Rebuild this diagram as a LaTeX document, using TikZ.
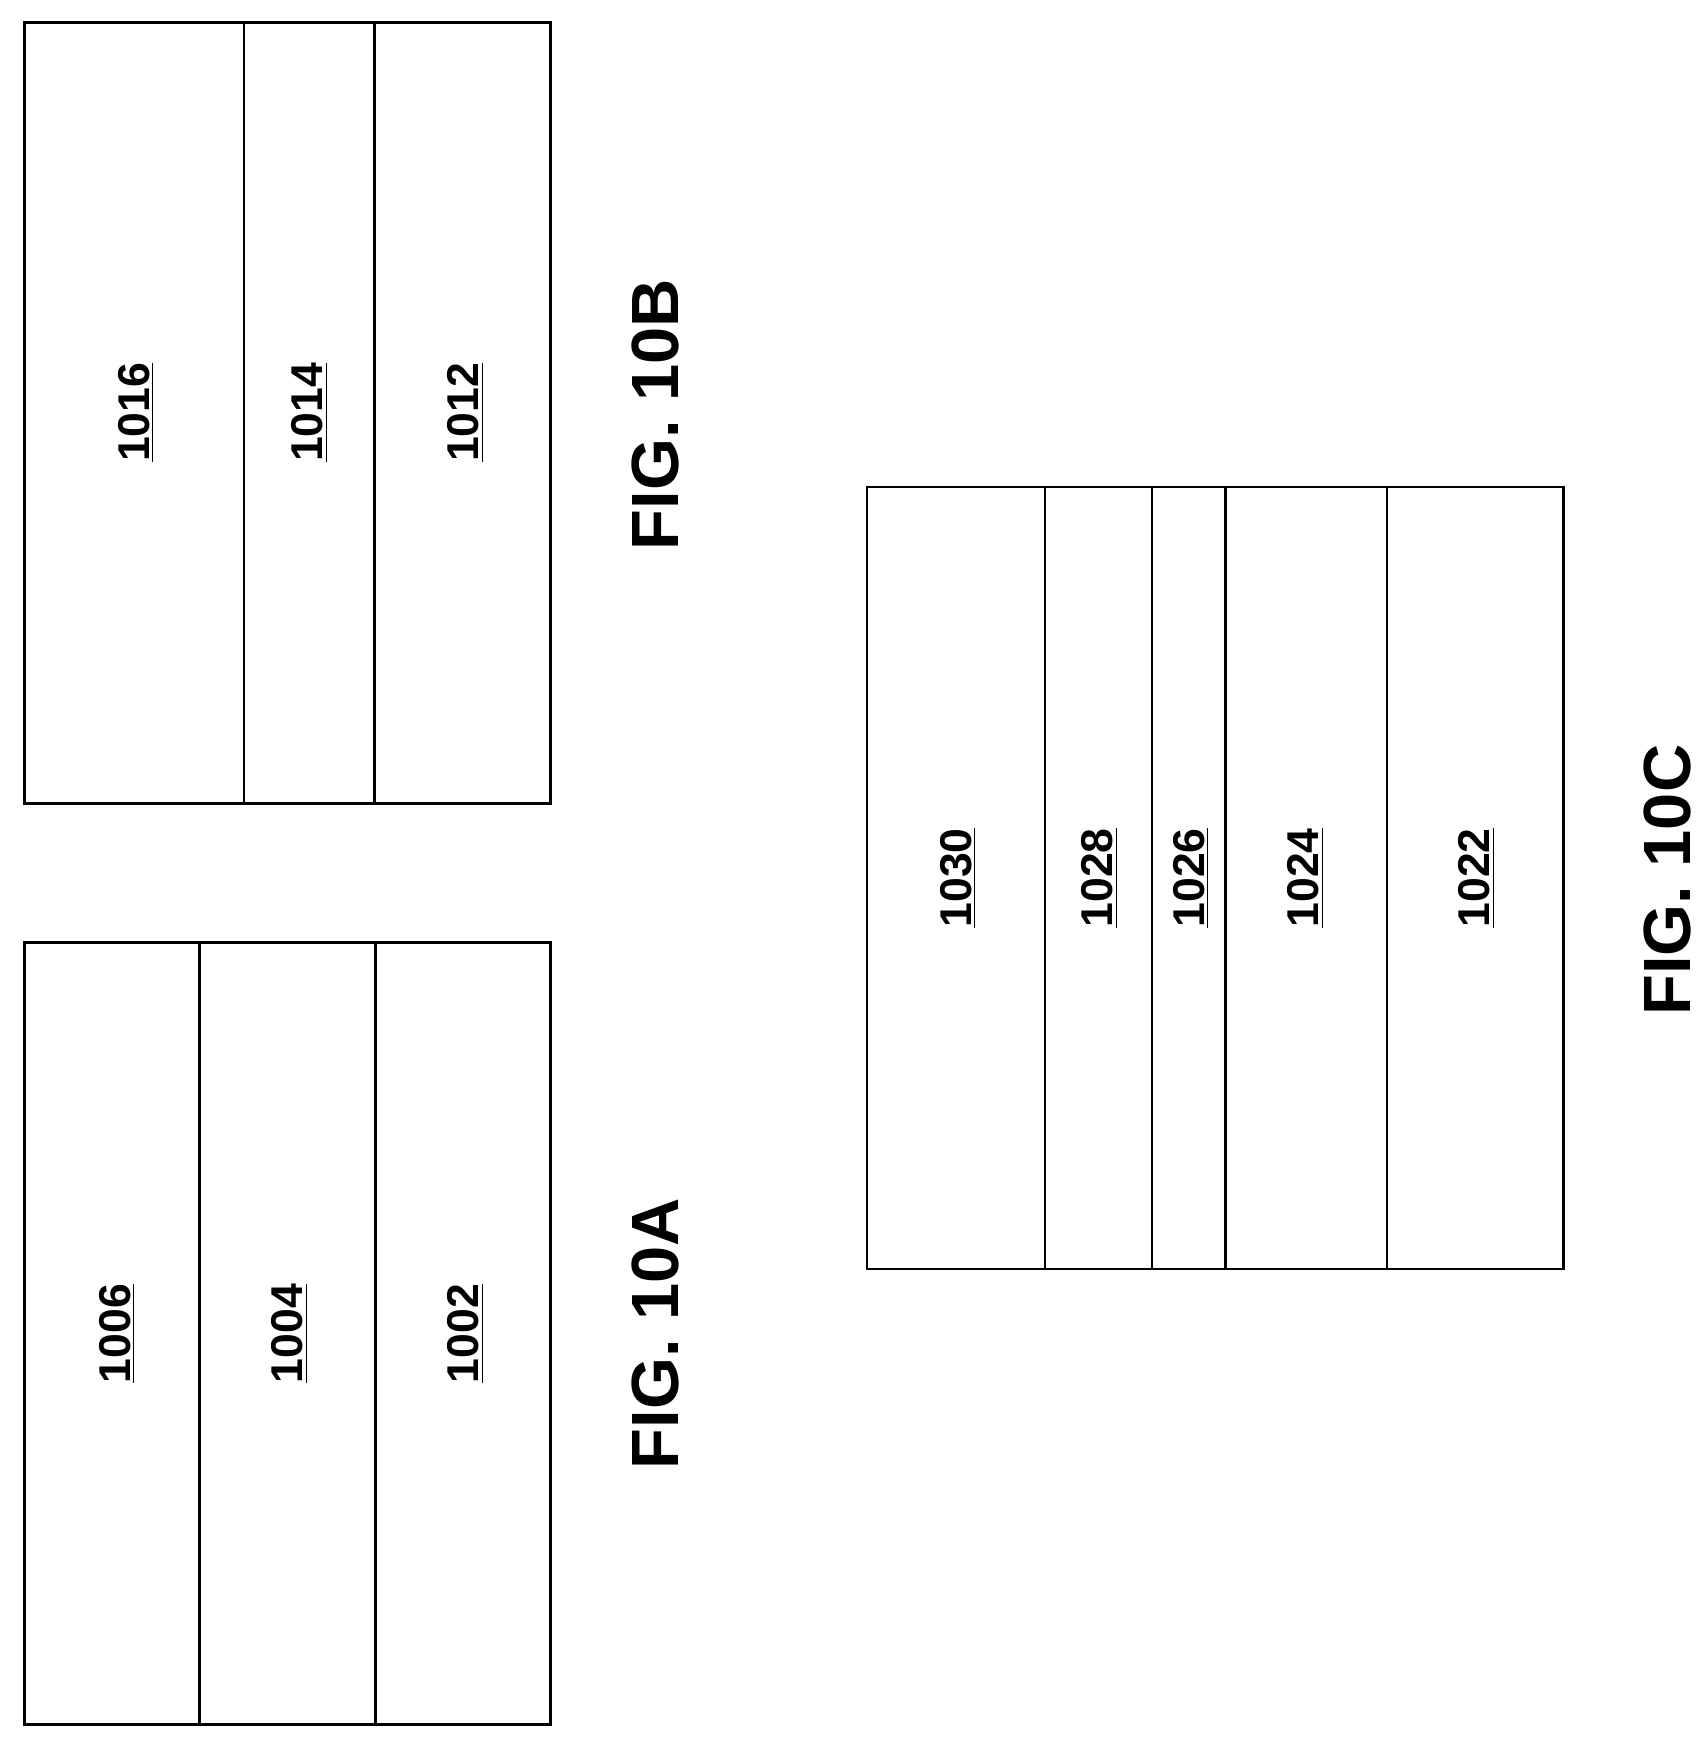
\documentclass[tikz,border=0pt]{standalone}
\usepackage{fontspec}
\setmainfont{Liberation Sans}
\begin{document}
\begin{tikzpicture}[x=0.5pt,y=-0.5pt,
  layer/.style={draw,line width=1.2pt},
  lbl/.style={rotate=90,font=\bfseries\fontsize{20}{24}\selectfont},
  figlbl/.style={rotate=90,font=\bfseries\fontsize{30}{36}\selectfont}]
\useasboundingbox (0,0) rectangle (1530,1559);

% FIG. 10A
\draw[layer] (22,846) rectangle (494,1548);
\draw[layer] (179,846) -- (179,1548);
\draw[layer] (337,846) -- (337,1548);
\node[lbl] (l1006) at (105,1197) {\underline{1006}};
\node[lbl] (l1004) at (260,1197) {\underline{1004}};
\node[lbl] (l1002) at (418,1197) {\underline{1002}};
\node[figlbl] (figA) at (588,1197) {FIG. 10A};

% FIG. 10B
\draw[layer] (22,20) rectangle (494,721);
\draw[layer] (219,20) -- (219,721);
\draw[layer] (336,20) -- (336,721);
\node[lbl] (l1016) at (122,370) {\underline{1016}};
\node[lbl] (l1014) at (278,370) {\underline{1014}};
\node[lbl] (l1012) at (418,370) {\underline{1012}};
\node[figlbl] (figB) at (588,372) {FIG. 10B};

% FIG. 10C
\draw[layer] (778,437) rectangle (1403,1139);
\foreach \xx in {938,1034,1100,1245}
  \draw[layer] (\xx,437) -- (\xx,1139);
\node[lbl] (l1030) at (860,788) {\underline{1030}};
\node[lbl] (l1028) at (987,788) {\underline{1028}};
\node[lbl] (l1026) at (1069,788) {\underline{1026}};
\node[lbl] (l1024) at (1172,788) {\underline{1024}};
\node[lbl] (l1022) at (1325,788) {\underline{1022}};
\node[figlbl] (figC) at (1497,790) {FIG. 10C};
\end{tikzpicture}
\end{document}
